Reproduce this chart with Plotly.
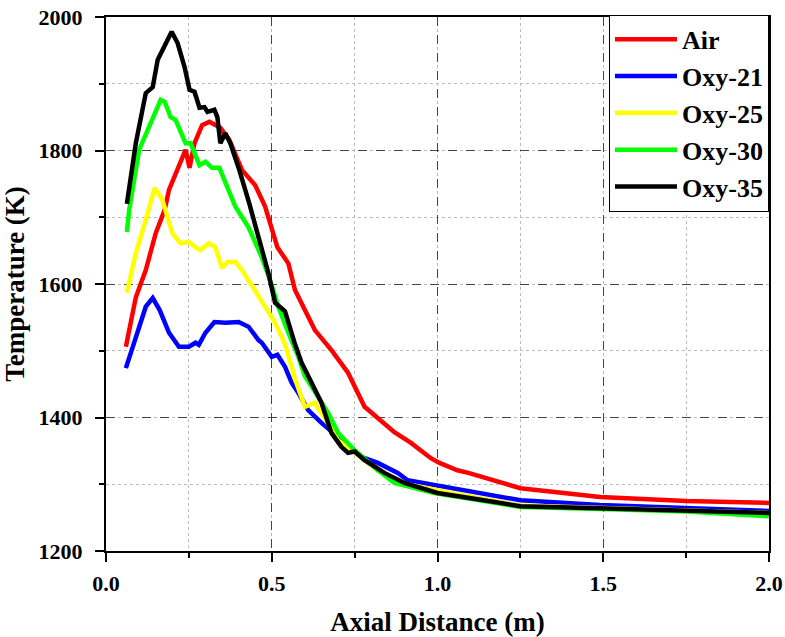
import plotly.graph_objects as go

air_x = [0.06, 0.09, 0.12, 0.15, 0.177, 0.19, 0.24, 0.252, 0.267, 0.29, 0.312, 0.345, 0.372, 0.41, 0.45, 0.48,
         0.517, 0.55, 0.57, 0.63, 0.68, 0.73, 0.78, 0.87, 0.92, 0.98, 1.006, 1.06, 1.093, 1.19, 1.25, 1.49, 1.75, 2.0]
air_t = [1506, 1580, 1621, 1676, 1711, 1741, 1801, 1774, 1811, 1838, 1843, 1834, 1816, 1771, 1748, 1716,
         1655, 1631, 1591, 1531, 1501, 1467, 1416, 1378, 1362, 1339, 1332, 1321, 1317, 1302, 1294, 1281, 1275, 1272]

o21_x = [0.06, 0.09, 0.12, 0.141, 0.162, 0.19, 0.22, 0.25, 0.27, 0.28, 0.30, 0.327, 0.36, 0.40, 0.43, 0.46, 0.47,
         0.50, 0.517, 0.54, 0.56, 0.58, 0.61, 0.65, 0.70, 0.77, 0.82, 0.88, 0.91, 1.00, 1.14, 1.25, 1.49, 1.75, 2.0]
o21_t = [1474, 1521, 1566, 1579, 1561, 1527, 1506, 1506, 1512, 1509, 1527, 1543, 1542, 1543, 1536, 1516, 1512,
         1491, 1494, 1476, 1452, 1437, 1411, 1392, 1371, 1341, 1332, 1317, 1306, 1298, 1287, 1276, 1269, 1264, 1260]

o25_x = [0.063, 0.09, 0.12, 0.147, 0.17, 0.20, 0.225, 0.25, 0.27, 0.285, 0.31, 0.33, 0.35, 0.366, 0.39, 0.41, 0.44,
         0.48, 0.51, 0.54, 0.57, 0.60, 0.63, 0.65, 0.70, 0.74, 0.82, 0.89, 1.04, 1.25, 1.49, 1.75, 2.0]
o25_t = [1587, 1646, 1696, 1744, 1726, 1676, 1661, 1663, 1655, 1651, 1661, 1655, 1624, 1633, 1633, 1621, 1598,
         1566, 1542, 1510, 1458, 1416, 1422, 1407, 1366, 1351, 1321, 1302, 1287, 1268, 1264, 1261, 1257]

o30_x = [0.063, 0.07, 0.10, 0.14, 0.165, 0.177, 0.195, 0.21, 0.24, 0.255, 0.282, 0.30, 0.32, 0.342, 0.366, 0.39,
         0.43, 0.47, 0.50, 0.52, 0.55, 0.58, 0.60, 0.64, 0.67, 0.70, 0.75, 0.82, 0.87, 0.99, 1.25, 1.49, 1.75, 2.0]
o30_t = [1678, 1711, 1801, 1846, 1876, 1873, 1850, 1846, 1811, 1811, 1778, 1783, 1774, 1774, 1745, 1716,
         1685, 1640, 1598, 1566, 1527, 1491, 1462, 1431, 1407, 1377, 1351, 1321, 1302, 1287, 1266, 1263, 1259, 1252]

o35_x = [0.063, 0.09, 0.12, 0.141, 0.156, 0.177, 0.186, 0.198, 0.216, 0.237, 0.252, 0.267, 0.282, 0.297, 0.306,
         0.327, 0.336, 0.345, 0.36, 0.375, 0.402, 0.432, 0.46, 0.49, 0.51, 0.54, 0.57, 0.59, 0.61, 0.65, 0.68, 0.71,
         0.73, 0.75, 0.78, 0.84, 0.90, 1.00, 1.14, 1.25, 1.49, 1.75, 2.0]
o35_t = [1720, 1811, 1886, 1895, 1936, 1955, 1966, 1978, 1961, 1925, 1891, 1888, 1864, 1865, 1858,
         1861, 1850, 1811, 1826, 1811, 1771, 1721, 1670, 1616, 1572, 1559, 1510, 1482, 1462, 1422, 1377, 1356,
         1347, 1349, 1336, 1317, 1302, 1287, 1276, 1267, 1264, 1261, 1257]

x_ticks = [0, 0.5, 1.0, 1.5, 2.0]
x_ticktext = ["0.0", "0.5", "1.0", "1.5", "2.0"]
y_ticks = [1200, 1400, 1600, 1800, 2000]

series = [
    ("Air", air_x, air_t, "#ff0000"),
    ("Oxy-21", o21_x, o21_t, "#0000ff"),
    ("Oxy-25", o25_x, o25_t, "#ffff00"),
    ("Oxy-30", o30_x, o30_t, "#00ff00"),
    ("Oxy-35", o35_x, o35_t, "#000000"),
]

FONT = "Liberation Serif, Times New Roman, serif"

fig = go.Figure()
for name, xs, ts, col in series:
    fig.add_trace(go.Scatter(x=xs, y=ts, name=name, mode="lines",
                             line=dict(color=col, width=4.5)))

axis_common = dict(
    showline=True, linecolor="black", linewidth=2, mirror=True,
    ticks="outside", ticklen=9, tickwidth=1.5, tickcolor="black",
    showgrid=True, gridcolor="#444444", gridwidth=1, griddash="dash",
    zeroline=False, automargin=False,
    tickfont=dict(family=FONT, size=22, color="black", weight="bold"),
)

fig.update_xaxes(
    range=[0, 2.0], tickvals=x_ticks, ticktext=x_ticktext,
    minor=dict(dtick=0.25, tick0=0, ticks="outside", ticklen=5, tickcolor="black",
               showgrid=True, gridcolor="#bbbbbb", griddash="dot", gridwidth=1),
    title=dict(text="Axial Distance (m)", font=dict(family=FONT, size=27, color="black", weight="bold"),
               standoff=18),
    ticklabelstandoff=3,
    **axis_common,
)
fig.update_yaxes(
    range=[1200, 2000], tickvals=y_ticks,
    minor=dict(dtick=100, tick0=1200, ticks="outside", ticklen=5, tickcolor="black",
               showgrid=True, gridcolor="#bbbbbb", griddash="dot", gridwidth=1),
    title=dict(text="Temperature (K)", font=dict(family=FONT, size=27, color="black", weight="bold"),
               standoff=6),
    ticklabelstandoff=8,
    **axis_common,
)

fig.update_layout(
    width=785, height=637,
    margin=dict(l=106, r=16, t=17, b=86),
    plot_bgcolor="white", paper_bgcolor="white",
    showlegend=True,
    legend=dict(x=1.0, y=1.004, xanchor="right", yanchor="top",
                bgcolor="white", bordercolor="black", borderwidth=1,
                font=dict(family=FONT, size=26, color="black", weight="bold"),
                tracegroupgap=0, itemwidth=62),
)

fig.write_html("out.html")
